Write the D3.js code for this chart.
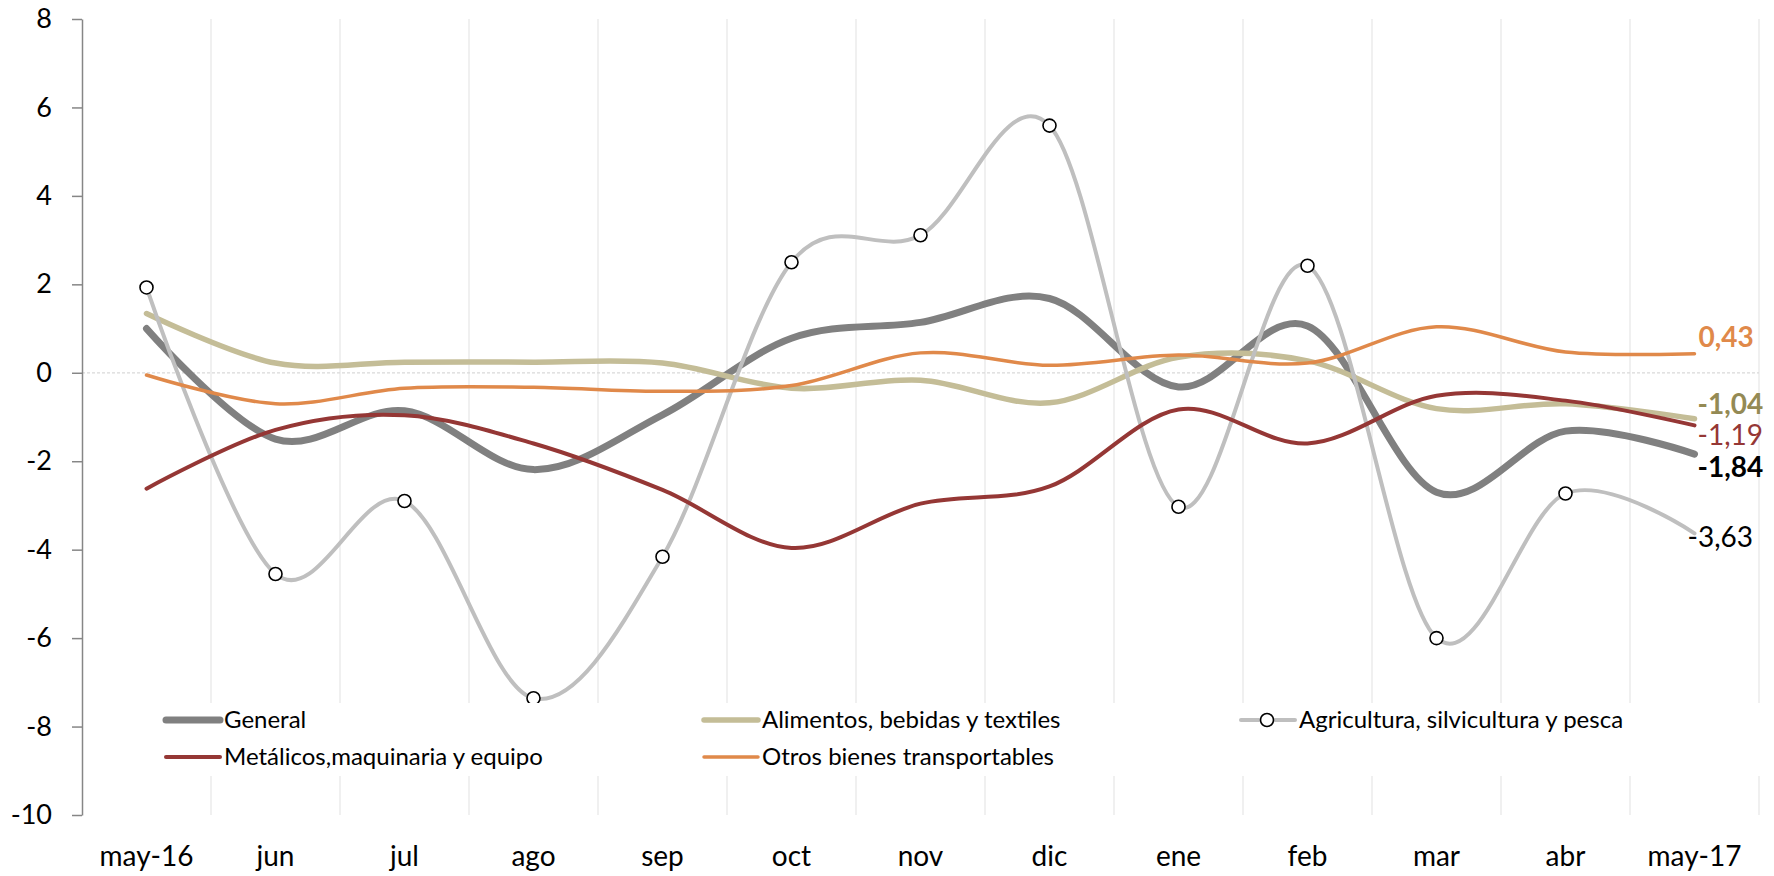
<!DOCTYPE html>
<meta charset="utf-8">
<style>
body { margin: 0; background: #fff; font-family: Lato, 'Open Sans', sans-serif; }
.axis path, .axis line { stroke: #868686; stroke-width: 1.5; }
.axis text { font-family: Lato, sans-serif; font-size: 27px; fill: #000; }
.xlab { font-size: 28px; }
.legend text { font-size: 24px; }
</style>
<body>
<script src="https://d3js.org/d3.v7.min.js"></script>
<script>
var width = 1774,
    height = 876;

var months = ["may-16", "jun", "jul", "ago", "sep", "oct", "nov", "dic", "ene", "feb", "mar", "abr", "may-17"];
var general = [1.0, -1.5, -0.86, -2.19, -0.95, 0.78, 1.14, 1.68, -0.32, 1.06, -2.7, -1.32, -1.84];
var alimentos = [1.34, 0.22, 0.24, 0.24, 0.22, -0.35, -0.17, -0.68, 0.35, 0.27, -0.81, -0.7, -1.04];
var agricultura = [1.93, -4.55, -2.9, -7.36, -4.16, 2.5, 3.11, 5.59, -3.03, 2.42, -6.0, -2.73, -3.63];
var metalicos = [-2.62, -1.29, -0.96, -1.6, -2.65, -3.96, -2.96, -2.57, -0.83, -1.6, -0.52, -0.63, -1.19];
var otros = [-0.05, -0.7, -0.35, -0.33, -0.42, -0.29, 0.45, 0.17, 0.4, 0.22, 1.04, 0.47, 0.43];
var yTicks = [-10, -8, -6, -4, -2, 0, 2, 4, 6, 8];

var series = [
  {name: "General", values: general, color: "#808080", w: 7, label: "-1,84", lcolor: "#000", bold: true, dy: 13, dx: 3},
  {name: "Alimentos, bebidas y textiles", values: alimentos, color: "#c4bd97", w: 5.5, label: "-1,04", lcolor: "#948a54", bold: true, dy: -15, dx: 3},
  {name: "Agricultura, silvicultura y pesca", values: agricultura, color: "#bfbfbf", w: 4, label: "-3,63", lcolor: "#000", bold: false, dy: 4, dx: -7, marker: true},
  {name: "Metálicos,maquinaria y equipo", values: metalicos, color: "#953735", w: 4, label: "-1,19", lcolor: "#953735", bold: false, dy: 10, dx: 3},
  {name: "Otros bienes transportables", values: otros, color: "#e0894a", w: 3.5, label: "0,43", lcolor: "#e0894a", bold: true, dy: -17, dx: 4}
];

var margin = {top: 19, right: 15, bottom: 61, left: 82};

var x = d3.scaleBand().domain(months).range([margin.left, width - margin.right]);
var y = d3.scaleLinear().domain([-10, 8]).range([height - margin.bottom, margin.top]);
var cx = function(i) { return x(months[i]) + x.bandwidth() / 2; };

var svg = d3.select("body").append("svg")
    .attr("width", width)
    .attr("height", height);

// vertical gridlines between categories
svg.append("g").selectAll("line")
  .data(months.slice(1).concat(["end"]))
  .join("line")
    .attr("x1", (d, i) => x.range()[0] + (i + 1) * x.bandwidth())
    .attr("x2", (d, i) => x.range()[0] + (i + 1) * x.bandwidth())
    .attr("y1", y(8))
    .attr("y2", y(-10))
    .attr("stroke", "#ebebeb")
    .attr("stroke-width", 1.5);

// zero line
svg.append("line")
  .attr("x1", x.range()[0]).attr("x2", x.range()[1])
  .attr("y1", y(0)).attr("y2", y(0))
  .attr("stroke", "#d9d9d9")
  .attr("stroke-width", 1.2)
  .attr("stroke-dasharray", "3,2");

svg.append("g")
  .attr("class", "axis")
  .attr("transform", "translate(" + margin.left + ",0)")
  .call(d3.axisLeft(y).tickValues(yTicks).tickSize(10).tickSizeOuter(0).tickPadding(20).tickFormat(d3.format("d")))
  .call(g => g.selectAll("text").text(d => d < 0 ? "-" + Math.abs(d) : d));

svg.append("g").selectAll("text")
  .data(months)
  .join("text")
    .attr("class", "xlab")
    .attr("x", d => x(d) + x.bandwidth() / 2)
    .attr("y", 866)
    .attr("text-anchor", "middle")
    .text(d => d);

var line = d3.line()
  .x((d, i) => cx(i))
  .y(d => y(d))
  .curve(d3.curveCardinal.tension(0));

series.forEach(s => {
  svg.append("path")
    .datum(s.values)
    .attr("fill", "none")
    .attr("stroke", s.color)
    .attr("stroke-width", s.w)
    .attr("stroke-linecap", "round")
    .attr("d", line);
  if (s.marker) {
    svg.append("g").selectAll("circle")
      .data(s.values.slice(0, -1))
      .join("circle")
        .attr("cx", (d, i) => cx(i))
        .attr("cy", d => y(d))
        .attr("r", 6.5)
        .attr("fill", "#fff")
        .attr("stroke", "#000")
        .attr("stroke-width", 1.6);
  }
  var last = s.values.length - 1;
  svg.append("text")
    .attr("x", cx(last) + s.dx)
    .attr("y", y(s.values[last]) + s.dy)
    .attr("dy", "0.35em")
    .attr("fill", s.lcolor)
    .attr("font-size", 28)
    .attr("font-weight", s.bold ? "bold" : "normal")
    .text(s.label);
});

// legend
var legend = svg.append("g").attr("class", "legend");
legend.append("rect")
  .attr("x", 140).attr("y", 703)
  .attr("width", 1630).attr("height", 73)
  .attr("fill", "#fff");

var legPos = [[166, 720], [704, 720], [1241, 720], [166, 757], [704, 757]];
series.forEach((s, i) => {
  var p = legPos[i];
  var g = legend.append("g").attr("transform", "translate(" + p[0] + "," + p[1] + ")");
  g.append("line")
    .attr("x1", 0).attr("x2", 54)
    .attr("stroke", s.color)
    .attr("stroke-width", s.w)
    .attr("stroke-linecap", "round");
  if (s.marker) {
    g.append("circle").attr("cx", 26).attr("r", 6.5)
      .attr("fill", "#fff").attr("stroke", "#000").attr("stroke-width", 1.6);
  }
  g.append("text")
    .attr("x", 58)
    .attr("dy", "0.35em")
    .text(s.name);
});
</script>
